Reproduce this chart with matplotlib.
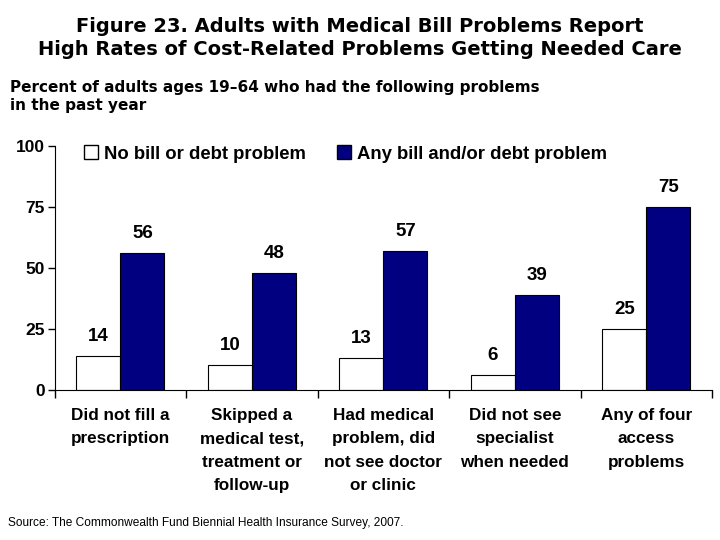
import matplotlib.pyplot as plt
import numpy as np
from matplotlib.patches import Patch

categories = ["Did not fill a\nprescription",
              "Skipped a\nmedical test,\ntreatment or\nfollow-up",
              "Had medical\nproblem, did\nnot see doctor\nor clinic",
              "Did not see\nspecialist\nwhen needed",
              "Any of four\naccess\nproblems"]
no_problem = [14, 10, 13, 6, 25]
any_problem = [56, 48, 57, 39, 75]
series_names = ["No bill or debt problem", "Any bill and/or debt problem"]

NAVY = "#000080"
ARIAL = "Liberation Sans"

fig = plt.figure(figsize=(7.2, 5.4), dpi=100)
ax = fig.add_axes([0.076, 0.278, 0.913, 0.452])

x = np.arange(len(categories))
w = 0.335
b1 = ax.bar(x - w / 2, no_problem, w, color="white", edgecolor="black", lw=0.8)
b2 = ax.bar(x + w / 2, any_problem, w, color=NAVY, edgecolor="black", lw=0.8)

for bars, vals in ((b1, no_problem), (b2, any_problem)):
    for b, v in zip(bars, vals):
        ax.annotate(f"{v}", (b.get_x() + b.get_width() / 2, v),
                    xytext=(0, 8), textcoords="offset points",
                    ha="center", va="bottom", fontsize=13.5,
                    fontweight="bold", family=ARIAL)

ax.set_xlim(-0.5, len(categories) - 0.5)
ax.set_ylim(0, 100)
ax.set_yticks([0, 25, 50, 75, 100])
ax.set_yticklabels(["0", "25", "50", "75", "100"], fontsize=12.5,
                   fontweight="bold", family=ARIAL)
ax.set_xticks(np.arange(len(categories) + 1) - 0.5)
ax.set_xticklabels([])
ax.tick_params(axis="x", direction="out", length=6, width=1)
ax.tick_params(axis="y", direction="out", length=5, width=1, pad=2)
for i, c in enumerate(categories):
    ax.text(i, -7.5, c, ha="center", va="top", fontsize=12.3,
            fontweight="bold", family=ARIAL, linespacing=1.68,
            transform=ax.transData)
for s in ("top", "right"):
    ax.spines[s].set_visible(False)

leg = ax.legend([Patch(facecolor="white", edgecolor="black"),
                 Patch(facecolor=NAVY, edgecolor="black")],
                series_names, loc="upper left", bbox_to_anchor=(0.02, 1.07),
                ncol=2, frameon=False, handlelength=0.75, handleheight=0.75,
                handletextpad=0.3, columnspacing=1.7,
                prop={"family": ARIAL, "weight": "bold", "size": 13.3})

fig.text(0.5, 0.968, "Figure 23. Adults with Medical Bill Problems Report\n"
         "High Rates of Cost-Related Problems Getting Needed Care",
         ha="center", va="top", fontsize=14, fontweight="bold",
         family="DejaVu Sans", linespacing=1.25)
fig.text(0.014, 0.852, "Percent of adults ages 19\u201364 who had the following problems\n"
         "in the past year", ha="left", va="top", fontsize=11,
         fontweight="bold", family="DejaVu Sans", linespacing=1.25)
fig.text(0.011, 0.032, "Source: The Commonwealth Fund Biennial Health Insurance Survey, 2007.",
         ha="left", va="center", fontsize=8.6, family=ARIAL)

fig.savefig("out.png", dpi=100)
